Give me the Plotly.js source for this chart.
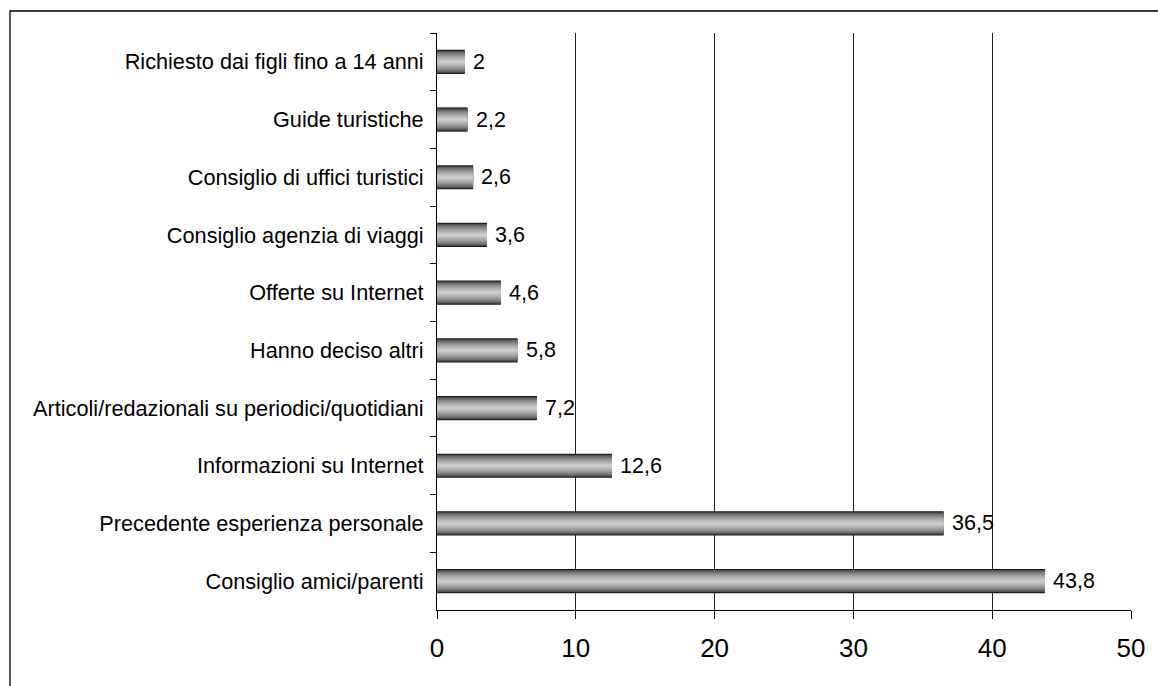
<!DOCTYPE html>
<html>
<head>
<meta charset="utf-8">
<script src="https://cdn.plot.ly/plotly-3.0.1.min.js"></script>
<style>
  html, body { margin: 0; padding: 0; background: #fff; }
  #plot { width: 1158px; height: 686px; }
</style>
</head>
<body>
<div id="plot"></div>
<script>
// categories, top to bottom
var categorie = [
    'Richiesto dai figli fino a 14 anni',
    'Guide turistiche',
    'Consiglio di uffici turistici',
    'Consiglio agenzia di viaggi',
    'Offerte su Internet',
    'Hanno deciso altri',
    'Articoli/redazionali su periodici/quotidiani',
    'Informazioni su Internet',
    'Precedente esperienza personale',
    'Consiglio amici/parenti'
];
var valori = [2, 2.2, 2.6, 3.6, 4.6, 5.8, 7.2, 12.6, 36.5, 43.8];
var tickX = [0, 10, 20, 30, 40, 50];

var etichette = valori.map(function (v) { return String(v).replace('.', ','); });

var FONT = 'Liberation Sans, Arial, sans-serif';

// fake the cylinder shading with overlaid bars of shrinking width
var layers = 12;
var fullWidth = 0.42;
var traces = [];
for (var k = 0; k < layers; k++) {
    var t = k / (layers - 1);
    var g = Math.round(20 + (205 - 20) * Math.sqrt(t));
    traces.push({
        type: 'bar',
        orientation: 'h',
        x: valori,
        y: categorie,
        width: fullWidth * (1 - k / layers),
        marker: { color: 'rgb(' + g + ',' + g + ',' + g + ')', line: { width: 0 } },
        hoverinfo: 'skip',
        showlegend: false
    });
}

// value labels next to the bar ends
var annotazioni = valori.map(function (v, i) {
    return {
        x: v, y: categorie[i],
        xref: 'x', yref: 'y',
        text: etichette[i],
        showarrow: false,
        xanchor: 'left',
        xshift: 6,
        font: { family: FONT, size: 21.5, color: '#000' }
    };
});

var layout = {
    width: 1158,
    height: 686,
    margin: { l: 437, r: 27, t: 33, b: 76, pad: 0 },
    paper_bgcolor: '#fff',
    plot_bgcolor: '#fff',
    barmode: 'overlay',
    font: { family: FONT, color: '#000' },
    xaxis: {
        range: [0, 50],
        tickvals: tickX,
        ticks: 'outside',
        ticklen: 8,
        tickcolor: '#000',
        tickfont: { size: 26 },
        ticklabelstandoff: 7,
        showline: true,
        linecolor: '#000',
        linewidth: 1,
        showgrid: true,
        gridcolor: '#222',
        gridwidth: 1,
        zeroline: false,
        fixedrange: true
    },
    yaxis: {
        type: 'category',
        autorange: 'reversed',
        tickson: 'boundaries',
        ticks: 'outside',
        ticklen: 6,
        tickcolor: '#000',
        tickfont: { size: 21.7 },
        ticklabelstandoff: 8,
        showline: true,
        linecolor: '#000',
        linewidth: 1,
        showgrid: false,
        zeroline: false,
        fixedrange: true
    },
    annotations: annotazioni,
    shapes: [{
        type: 'rect',
        xref: 'paper', yref: 'paper',
        x0: (10 - 437) / 694, x1: (1170 - 437) / 694,
        y0: (610 - 700) / 577, y1: (610 - 11) / 577,
        line: { color: '#000', width: 1.3 },
        fillcolor: 'rgba(0,0,0,0)',
        layer: 'below'
    }]
};

Plotly.newPlot('plot', traces, layout, { displayModeBar: false, staticPlot: true });
</script>
</body>
</html>
